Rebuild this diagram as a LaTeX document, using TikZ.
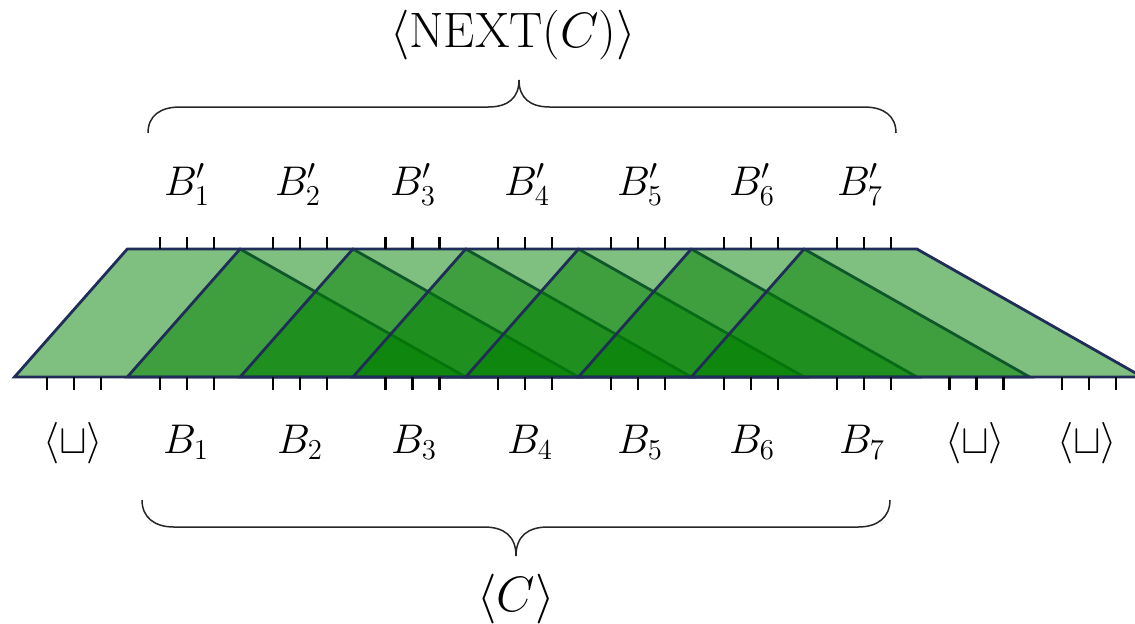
\documentclass[tikz,border=0pt]{standalone}
\definecolor{navy}{RGB}{31,45,88}
\definecolor{blockgreen}{RGB}{0,128,0}
\begin{document}
\begin{tikzpicture}[x=0.5pt,y=-0.5pt,
  blk/.style={draw=navy,line width=1.4pt,fill=blockgreen,fill opacity=0.5,line join=miter},
  tickmark/.style={draw=black,line width=1.1pt},
  lbl/.style={font=\fontsize{21}{25}\selectfont,anchor=base,inner sep=0pt},
  biglbl/.style={font=\fontsize{23}{28}\selectfont,inner sep=0pt},
  brc/.style={draw=black!85,line width=0.75pt}]
\useasboundingbox (0,0) rectangle (1135,623);
\def\dx{112.8}
\def\xo{14.5}
% overlapping translucent blocks
\foreach \k in {1,...,7}{
  \path[blk] ({\xo+(\k-1)*\dx},377) -- ({\xo+\k*\dx},249) -- ({\xo+(\k+1)*\dx},249) -- ({\xo+(\k+3)*\dx},377) -- cycle;
}
% ticks
\foreach \j in {1,...,7}{
  \foreach \o in {32.5,59.5,86.5}{
    \draw[tickmark] ({\xo+\j*\dx+\o},237) -- ({\xo+\j*\dx+\o},249);
  }
}
\foreach \j in {0,...,9}{
  \foreach \o in {32.5,59.5,86.5}{
    \draw[tickmark] ({\xo+\j*\dx+\o},377) -- ({\xo+\j*\dx+\o},390);
  }
}
% top labels
\node[lbl] (t1) at (187,195) {$B'_1$};
\node[lbl] (t2) at (298,195) {$B'_2$};
\node[lbl] (t3) at (413,195) {$B'_3$};
\node[lbl] (t4) at (527,195) {$B'_4$};
\node[lbl] (t5) at (640,195) {$B'_5$};
\node[lbl] (t6) at (752,195) {$B'_6$};
\node[lbl] (t7) at (860,195) {$B'_7$};
% bottom labels
\node[lbl] (u0) at (73,453) {$\langle\sqcup\rangle$};
\node[lbl] (b1) at (186,453) {$B_1$};
\node[lbl] (b2) at (300,453) {$B_2$};
\node[lbl] (b3) at (414,453) {$B_3$};
\node[lbl] (b4) at (530,453) {$B_4$};
\node[lbl] (b5) at (640,453) {$B_5$};
\node[lbl] (b6) at (752,453) {$B_6$};
\node[lbl] (b7) at (862,453) {$B_7$};
\node[lbl] (u8) at (975,453) {$\langle\sqcup\rangle$};
\node[lbl] (u9) at (1087,453) {$\langle\sqcup\rangle$};
% braces
\draw[brc] (148,133) .. controls (148,116) and (160,107) .. (180,107) -- (488,107) .. controls (508,107) and (519,98) .. (519,80) .. controls (519,98) and (530,107) .. (550,107) -- (864,107) .. controls (884,107) and (896,116) .. (896,133);
\draw[brc] (142,500) .. controls (142,517) and (154,527) .. (174,527) -- (484,527) .. controls (504,527) and (516,536) .. (516,556) .. controls (516,536) and (528,527) .. (548,527) -- (858,527) .. controls (878,527) and (890,517) .. (890,500);
\node[biglbl] (next) at (513,35) {$\langle\mathrm{NEXT}(C)\rangle$};
\node[biglbl] (cc) at (516,599) {$\langle C\rangle$};
\end{tikzpicture}
\end{document}
